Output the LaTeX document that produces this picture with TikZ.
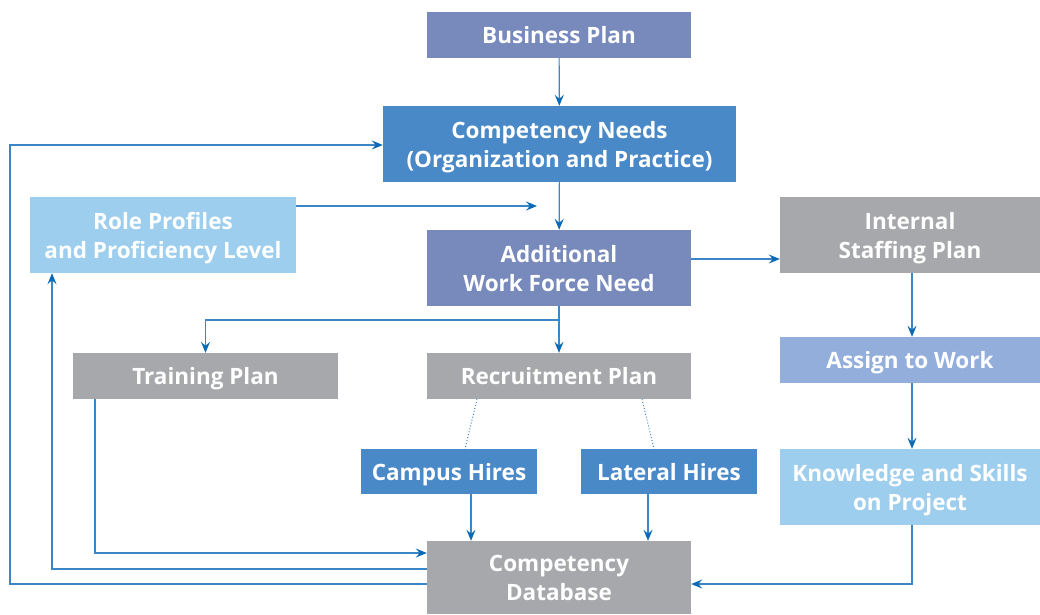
\documentclass[tikz,border=0pt]{standalone}
\usepackage{fontspec}
\setmainfont{Open Sans}
\usetikzlibrary{arrows.meta,positioning}
\usepackage{xcolor}

\definecolor{plancol}{HTML}{7889BC}
\definecolor{needcol}{HTML}{4A89C8}
\definecolor{lightcol}{HTML}{9DCEEE}
\definecolor{greycol}{HTML}{A7A8AB}
\definecolor{assigncol}{HTML}{93AEDB}
\definecolor{linecol}{HTML}{3A86C6}
\definecolor{tipcol}{HTML}{0A6AB5}

\tikzset{
  box/.style={rectangle, inner sep=0pt, align=center, text=white,
    text height=20pt, text depth=3pt,
    font=\fontsize{22.5}{29}\selectfont\bfseries},
  twoline/.style={box, text height=49pt},
  flow/.style={draw=linecol, line width=1.2pt,
    -{Stealth[length=11pt,width=9pt,inset=4pt,color=tipcol]}},
  link/.style={draw=linecol, line width=1.2pt},
  hint/.style={draw=linecol, line width=1pt, dotted}
}

\begin{document}
\begin{tikzpicture}[x=1pt,y=-1pt]
        \useasboundingbox (0,0) rectangle (1040,614);

        % boxes
        \node[box, fill=plancol, minimum width=264pt, minimum height=46pt] (business) at (559,35) {Business Plan};
        \node[twoline, fill=needcol, minimum width=353pt, minimum height=76pt] (needs) at (559.5,144) {Competency Needs\\(Organization and Practice)};
        \node[twoline, fill=lightcol, minimum width=266pt, minimum height=76pt] (roles) at (163,235) {Role Profiles\\and Proficiency Level};
        \node[twoline, fill=plancol, minimum width=264pt, minimum height=76pt] (workforce) at (559,268) {Additional\\Work Force Need};
        \node[twoline, fill=greycol, minimum width=260pt, minimum height=76pt] (internal) at (910,235) {Internal\\Staffing Plan};
        \node[box, fill=greycol, minimum width=265pt, minimum height=46pt] (training) at (205.5,376) {Training Plan};
        \node[box, fill=greycol, minimum width=264pt, minimum height=46pt] (recruit) at (559,376) {Recruitment Plan};
        \node[box, fill=assigncol, minimum width=260pt, minimum height=46pt] (assign) at (910,360) {Assign to Work};
        \node[box, fill=needcol, minimum width=176pt, minimum height=45pt] (campus) at (449,471.5) {Campus Hires};
        \node[box, fill=needcol, minimum width=176pt, minimum height=45pt] (lateral) at (669,471.5) {Lateral Hires};
        \node[twoline, fill=lightcol, minimum width=260pt, minimum height=76pt] (skills) at (910,487) {Knowledge and Skills\\on Project};
        \node[twoline, fill=greycol, minimum width=264pt, minimum height=73pt] (database) at (559,577.5) {Competency\\Database};

        % helper points
        \coordinate (rolestip) at (537,206);
        \coordinate (split) at (559,320);

        % main flow
        \draw[flow] (business) -- (needs);
        \draw[flow] (needs) -- (workforce);
        \draw[flow] (roles.east |- rolestip) -- (rolestip);
        \draw[flow] (workforce.east |- 0,259) -- (internal.west |- 0,259);
        \draw[link] (workforce.south) -- (split);
        \draw[flow] (split) -| (training.north);
        \draw[flow] (split) -- (recruit.north);
        \draw[hint] (recruit.south -| 477,0) -- (campus.north -| 465,0);
        \draw[hint] (recruit.south -| 642,0) -- (lateral.north -| 654,0);
        \draw[flow] (campus.south -| 471,0) -- (database.north -| 471,0);
        \draw[flow] (lateral.south -| 648,0) -- (database.north -| 648,0);

        % staffing branch
        \draw[flow] (internal.south -| 912,0) -- (assign.north -| 912,0);
        \draw[flow] (assign.south -| 912,0) -- (skills.north -| 912,0);
        \draw[flow] (skills.south -| 912,0) |- (database.east |- 0,584);

        % feedback loops
        \draw[flow] (training.south -| 95,0) |- (database.west |- 0,553);
        \draw[flow] (database.west |- 0,569) -| (roles.south -| 52,0);
        \draw[flow] (database.west |- 0,584) -| (10,300) |- (needs.west |- 0,145);
\end{tikzpicture}
\end{document}
